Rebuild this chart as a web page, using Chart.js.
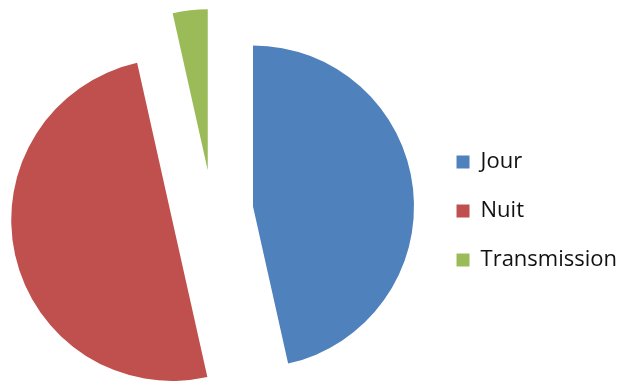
<!DOCTYPE html>
<html>
<head>
<meta charset="utf-8">
<script src="https://cdn.jsdelivr.net/npm/chart.js@4/dist/chart.umd.min.js"></script>
<style>
  html, body { margin: 0; padding: 0; background: #fff; overflow: hidden; }
  #wrap { width: 630px; height: 385px; margin-left: -5px; }
</style>
</head>
<body>
<div id="wrap"><canvas id="pie"></canvas></div>
<script>
const labels = ["Jour", "Nuit", "Transmission"];
const shares = [46.5, 50, 3.5];
const colors = ["#4F81BD", "#C0504D", "#9BBB59"];

// pulls every slice away from the centre along its own bisector,
// keeping the radius the same for all slices
const explodePlugin = {
  id: "explode",
  afterDatasetsUpdate(chart, args, opts) {
    const area = chart.chartArea;
    const cx = (area.left + area.right) / 2;
    const cy = (area.top + area.bottom) / 2;
    chart.getDatasetMeta(0).data.forEach(arc => {
      const mid = (arc.startAngle + arc.endAngle) / 2;
      arc.x = cx + Math.cos(mid) * opts.distance;
      arc.y = cy + Math.sin(mid) * opts.distance;
    });
  }
};

new Chart(document.getElementById("pie"), {
  type: "pie",
  data: {
    labels: labels,
    datasets: [{
      data: shares,
      backgroundColor: colors,
      borderWidth: 0
    }]
  },
  options: {
    responsive: true,
    maintainAspectRatio: false,
    animation: false,
    radius: 161,
    layout: { padding: { left: 0, right: -2, top: 37, bottom: 0 } },
    plugins: {
      explode: { distance: 41 },
      tooltip: { enabled: false },
      legend: {
        position: "right",
        labels: {
          boxWidth: 13,
          boxHeight: 13,
          padding: 27,
          color: "#111",
          font: { family: "Open Sans", size: 22 }
        }
      }
    }
  },
  plugins: [explodePlugin]
});
</script>
</body>
</html>
